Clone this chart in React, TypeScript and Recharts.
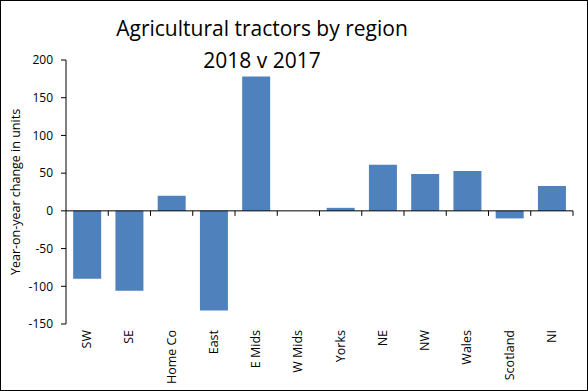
import React from 'react';
import { BarChart, Bar, XAxis, YAxis, ReferenceLine } from 'recharts';

const regions = ['SW', 'SE', 'Home Co', 'East', 'E Mids', 'W Mids', 'Yorks', 'NE', 'NW', 'Wales', 'Scotland', 'NI'];
const changes = [-90, -106, 20, -132, 178, 0, 4, 61, 49, 53, -10, 33];
const yTicks = [-150, -100, -50, 0, 50, 100, 150, 200];
const titleLines = ['Agricultural tractors by region', '2018 v 2017'];
const yLabel = 'Year-on-year change in units';

const data = regions.map((r, i) => ({ region: r, change: changes[i] }));

const FONT = '"Open Sans", "Noto Sans", sans-serif';

const XTick = (props: any) => {
  const { x, y, payload } = props;
  return (
    <text
      x={0}
      y={0}
      transform={`translate(${x + 4},${y - 2}) rotate(-90)`}
      textAnchor="end"
      fontSize={12.5}
      fontFamily={FONT}
      fill="#000"
    >
      {payload.value}
    </text>
  );
};

const ZeroAxis = (props: any) => {
  const { x1, y1, x2 } = props;
  const n = regions.length;
  const step = (x2 - x1) / n;
  const ticks = [];
  for (let i = 1; i <= n; i++) {
    const tx = x1 + step * i;
    ticks.push(<line key={i} x1={tx} y1={y1} x2={tx} y2={y1 + 5} stroke="#000" strokeWidth={1} />);
  }
  return (
    <g>
      <line x1={x1} y1={y1} x2={x2} y2={y1} stroke="#000" strokeWidth={1} />
      {ticks}
    </g>
  );
};

export default function App() {
  return (
    <div
      style={{
        position: 'absolute',
        left: 0,
        top: 0,
        width: 588,
        height: 391,
        border: '1px solid #000',
        boxSizing: 'border-box',
        background: '#fff',
        overflow: 'hidden',
      }}
    >
      {titleLines.map((t, i) => (
        <div
          key={i}
          style={{
            position: 'absolute',
            left: 0,
            width: 522,
            top: 12 + i * 32,
            textAlign: 'center',
            fontFamily: FONT,
            fontSize: 21,
            lineHeight: '30px',
            color: '#000',
            zIndex: 2,
          }}
        >
          {t}
        </div>
      ))}
      <div style={{ position: 'absolute', left: -1, top: -1 }}>
        <BarChart
          width={588}
          height={391}
          data={data}
          margin={{ top: 60, right: 15, left: 0, bottom: 0 }}
          barCategoryGap="17%"
        >
          <XAxis
            dataKey="region"
            axisLine={false}
            tickLine={false}
            height={67}
            interval={0}
            tick={<XTick />}
          />
          <YAxis
            width={66}
            domain={[-150, 200]}
            ticks={yTicks}
            interval={0}
            tickSize={5}
            tickMargin={8}
            axisLine={{ stroke: '#000' }}
            tickLine={{ stroke: '#000' }}
            tick={{ fontSize: 12, fontFamily: FONT, fill: '#000' }}
            label={{
              value: yLabel,
              angle: -90,
              position: 'insideLeft',
              offset: 16,
              style: { textAnchor: 'middle', fontSize: 12.5, fontFamily: FONT, fill: '#000' },
            }}
          />
          <Bar dataKey="change" fill="#4F81BD" isAnimationActive={false} />
          <ReferenceLine y={0} shape={<ZeroAxis />} />
        </BarChart>
      </div>
    </div>
  );
}
